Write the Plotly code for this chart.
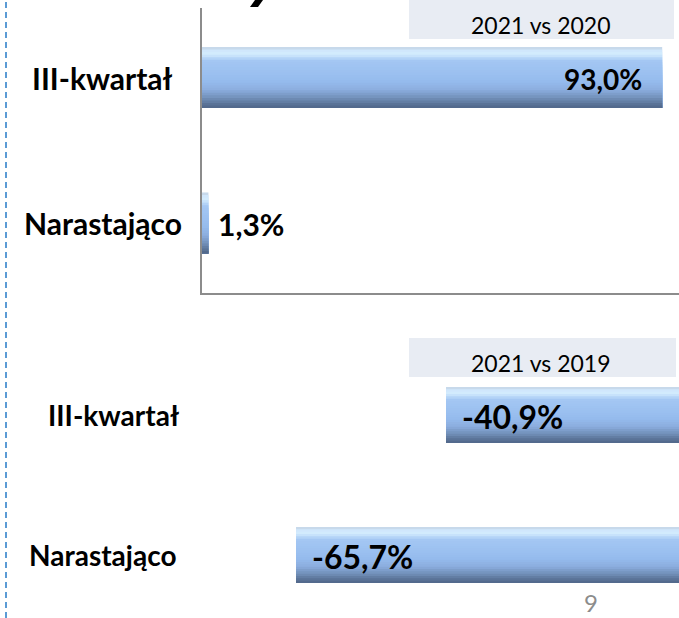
import plotly.graph_objects as go

# ---------------- data ----------------
categories = ["III-kwartał", "Narastająco"]
vs2020 = [93.0, 1.3]
vs2019 = [-40.9, -65.7]
panel_titles = ["2021 vs 2020", "2021 vs 2019"]
page_number = "9"

# ---------------- helpers ----------------
W, H = 679, 618


def px(x):
    return x / W


def py(y):
    return 1 - y / H


def fmt(v):
    return f"{v:.1f}".replace(".", ",") + "%"


def hex2rgb(h):
    h = h.lstrip("#")
    return [int(h[i:i + 2], 16) for i in (0, 2, 4)]


FONT = "Lato"
AXIS_GRAY = "#8C8C8C"

# bevel-like shading: colour stops across the bar thickness (0 = top, 1 = bottom)
shade_stops = [
    (0.00, "#C2CFE0"),
    (0.05, "#CFE6FB"),
    (0.12, "#D3ECFE"),
    (0.22, "#A4C7F3"),
    (0.55, "#96BCEE"),
    (0.70, "#8CAEDF"),
    (0.82, "#7593BD"),
    (0.93, "#5B7599"),
    (1.00, "#4F6688"),
]


def shade_at(f):
    for (a, ca), (b, cb) in zip(shade_stops[:-1], shade_stops[1:]):
        if a <= f <= b:
            t = (f - a) / (b - a) if b > a else 0
            ra, rb = hex2rgb(ca), hex2rgb(cb)
            return "rgb({},{},{})".format(*[round(x + (y - x) * t) for x, y in zip(ra, rb)])
    return shade_stops[-1][1]


N_BANDS = 24
bands = [(i / N_BANDS, shade_at((i + 0.5) / N_BANDS)) for i in range(N_BANDS)]

fig = go.Figure()


def add_bars(vals, w, xa, ya):
    # each band covers from its start down to the bar bottom; later bands
    # overlay the lower part, so no gaps appear between stripes
    for f0, c in bands:
        fig.add_trace(go.Bar(
            orientation="h", x=vals, y=categories,
            width=(1 - f0) * w, offset=-w / 2 + f0 * w,
            marker=dict(color=c, line=dict(width=0)),
            xaxis=xa, yaxis=ya, hoverinfo="skip", showlegend=False,
        ))


add_bars(vs2020, 0.42, "x", "y")
add_bars(vs2019, 0.40, "x2", "y2")

annotations = []

# value labels, top panel
for cat, v in zip(categories, vs2020):
    inside = v > 20
    annotations.append(dict(
        x=v, y=cat, xref="x", yref="y", text=f"<b>{fmt(v)}</b>",
        showarrow=False, xanchor="right" if inside else "left",
        xshift=-18 if inside else 8, yshift=-1,
        font=dict(family=FONT, size=28 if inside else 30, color="black"),
    ))
# value labels, bottom panel
for cat, v in zip(categories, vs2019):
    annotations.append(dict(
        x=v, y=cat, xref="x2", yref="y2", text=f"<b>{fmt(v)}</b>",
        showarrow=False, xanchor="left", xshift=14, yshift=-1,
        font=dict(family=FONT, size=32, color="black"),
    ))

# category labels
for cat, cx in zip(categories, [103, 103]):
    annotations.append(dict(
        x=px(cx), y=cat, xref="paper", yref="y", text=f"<b>{cat}</b>",
        showarrow=False, xanchor="center",
        font=dict(family=FONT, size=30, color="black"),
    ))
for cat, cx in zip(categories, [114, 102]):
    annotations.append(dict(
        x=px(cx), y=cat, xref="paper", yref="y2", text=f"<b>{cat}</b>",
        showarrow=False, xanchor="center",
        font=dict(family=FONT, size=28, color="black"),
    ))

# panel header texts
for t, cy in zip(panel_titles, [25, 363]):
    annotations.append(dict(
        x=px(541), y=py(cy), xref="paper", yref="paper", text=t,
        showarrow=False, xanchor="center", yanchor="middle",
        font=dict(family=FONT, size=23, color="black"),
    ))

# page number
annotations.append(dict(
    x=px(591), y=0, xref="paper", yref="paper", text=page_number,
    showarrow=False, xanchor="center", yanchor="bottom", yshift=-1,
    font=dict(family=FONT, size=24, color=AXIS_GRAY),
))

shapes = [
    # header boxes
    dict(type="rect", xref="paper", yref="paper", x0=px(409), x1=px(674),
         y0=py(39), y1=py(0), fillcolor="#E8ECF3", line=dict(width=0), layer="below"),
    dict(type="rect", xref="paper", yref="paper", x0=px(409), x1=px(676),
         y0=py(377), y1=py(338), fillcolor="#E8ECF3", line=dict(width=0), layer="below"),
    # left dashed guide
    dict(type="line", xref="paper", yref="paper", x0=px(6), x1=px(6), y0=0, y1=1,
         line=dict(color="#5B9BD5", width=2, dash="6px,4px")),
    # fragment of the cut-off title glyph at the top
    dict(type="path", xref="paper", yref="paper",
         path=f"M {px(255)},{py(0)} L {px(263)},{py(0)} L {px(258)},{py(7)} L {px(250)},{py(7)} Z",
         fillcolor="black", line=dict(width=0)),
]

fig.update_layout(
    width=W, height=H,
    margin=dict(l=0, r=0, t=0, b=0),
    paper_bgcolor="white", plot_bgcolor="rgba(0,0,0,0)",
    barmode="overlay",
    showlegend=False,
    annotations=annotations,
    shapes=shapes,
    xaxis=dict(domain=[px(202), 1], range=[0, 96.4], anchor="y",
               showline=True, linecolor=AXIS_GRAY, linewidth=1.5,
               showticklabels=False, showgrid=False, zeroline=False, ticks="",
               fixedrange=True),
    yaxis=dict(domain=[py(293), py(8)], range=[1.481, -0.478], type="category",
               anchor="x", showline=True, linecolor=AXIS_GRAY, linewidth=1.5,
               showticklabels=False, showgrid=False, zeroline=False, ticks="",
               fixedrange=True),
    xaxis2=dict(domain=[px(202), 1], range=[-81.25, -2.38], anchor="y2",
                visible=False, fixedrange=True),
    yaxis2=dict(domain=[0, py(345)], range=[1.45, -0.5], type="category",
                anchor="x2", visible=False, fixedrange=True),
)

fig.write_html(
    "out.html",
    config={"displayModeBar": False},
    post_script="document.body.style.margin='0';document.body.style.overflow='hidden';",
)
